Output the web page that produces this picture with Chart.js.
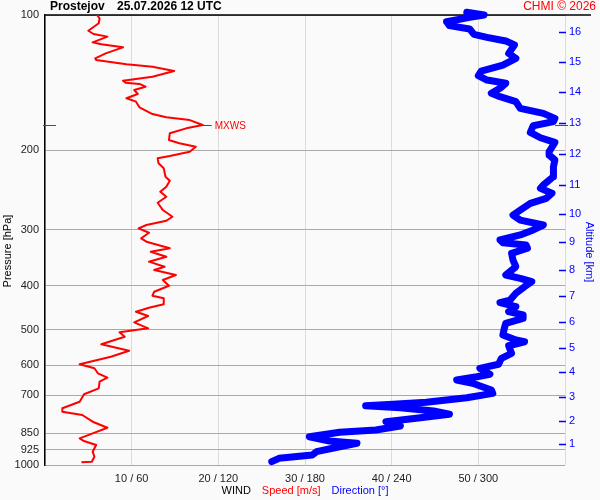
<!DOCTYPE html>
<html>
<head>
<meta charset="utf-8">
<script src="https://cdn.jsdelivr.net/npm/chart.js@4.4.1/dist/chart.umd.min.js"></script>
<style>
    html, body { margin: 0; padding: 0; background: #fafafa; }
    #wrap { width: 600px; height: 500px; }
</style>
</head>
<body>
<div id="wrap"><canvas id="windChart"></canvas></div>
<script>
// Rychlost větru [m/s] podle tlakové hladiny [hPa]
const speedLevels = [100, 101.7, 104.3, 108.4, 110.2, 111.7, 115.0, 116.2, 118.0, 121.7, 124.8, 125.9, 128.7, 130.3, 133.2,
    137.1, 140.0, 141.4, 142.3, 144.3, 146.8, 149.8, 153.1, 155.8, 160.4, 166.0, 168.8, 171.2, 175.6, 178.6, 183.2,
    189.6, 192.8, 196.2, 201.3, 205.8, 208.2, 213.6, 219.1, 228.7, 233.4, 240.7, 247.0, 253.4, 261.3, 271.3, 280.8,
    286.6, 292.9, 297.9, 304.7, 313.5, 319.0, 329.9, 335.7, 344.4, 353.3, 362.5, 368.7, 378.2, 388.1, 399.6, 412.0,
    420.6, 426.2, 439.5, 447.2, 456.4, 466.6, 481.9, 496.9, 507.2, 518.7, 539.3, 557.2, 574.5, 597.3, 609.7, 625.5,
    639.7, 653.0, 675.4, 696.4, 723.3, 748.2, 761.4, 774.3, 801.3, 826.3, 850.5, 872.5, 884.6, 902.9, 934.1, 958.5,
    983.3, 986.3];
const speedValues = [6.0, 6.3, 6.2, 5.0, 5.6, 7.2, 5.5, 6.5, 9.0, 7.0, 5.8, 5.9, 9.4, 12.4, 14.9,
    12.4, 9.0, 9.3, 10.9, 11.6, 10.3, 10.7, 9.4, 10.5, 10.9, 12.4, 14.0, 16.7, 18.2, 16.3, 14.4,
    14.3, 15.5, 17.4, 16.7, 14.4, 13.0, 13.1, 13.7, 13.9, 14.4, 14.0, 13.3, 14.0, 13.0, 13.6, 14.7,
    14.0, 11.7, 10.8, 12.0, 11.1, 11.7, 14.4, 12.2, 14.0, 12.0, 13.8, 12.6, 15.1, 13.6, 14.3, 12.6,
    12.4, 13.7, 13.7, 12.0, 10.5, 11.9, 10.3, 11.9, 8.6, 9.2, 6.5, 9.7, 7.6, 4.0, 5.7, 6.1,
    7.2, 6.3, 6.2, 4.5, 4.0, 2.0, 2.0, 4.3, 5.5, 7.2, 5.5, 4.0, 4.5, 5.9, 5.5, 5.7,
    5.4, 4.2];

// Směr větru [°] podle tlakové hladiny [hPa]
const dirLevels = [98.6, 100, 101.2, 103.5, 105.6, 107.4, 110.4, 112.1, 114.2, 116.6, 121.7, 124.8, 129.2, 133.2,
    136.4, 139.5, 141.8, 145.5, 149.3, 151.9, 155.8, 161.2, 165.4, 169.7, 172.6, 176.2, 182.3, 187.4, 191.9,
    201.3, 204.7, 210.0, 217.3, 228.7, 238.7, 242.8, 248.9, 255.5, 262.1, 271.3, 278.3, 285.6, 292.9, 300.4,
    308.2, 316.2, 320.6, 324.4, 329.9, 338.5, 350.4, 362.5, 378.2, 384.7, 391.5, 401.6, 415.4, 429.9, 435.9,
    444.9, 456.4, 464.2, 472.1, 484.3, 496.9, 514.2, 527.6, 532.2, 543.2, 564.7, 579.3, 597.3, 609.7, 628.7,
    636.6, 647.4, 658.3, 681.3, 693.1, 708.8, 725.6, 733.0, 738.3, 745.9, 758.6, 771.5, 787.5, 801.3, 819.1,
    836.1, 846.0, 865.3, 884.6, 895.0, 910.6, 934.1, 950.1, 966.3, 983.3];
const dirValues = [292, 304, 294, 278, 280, 294, 297, 306, 319, 325, 321, 326, 317, 302,
    300, 306, 319, 315, 309, 315, 326, 329, 345, 353, 352, 338, 336, 343, 353,
    349, 349, 353, 352, 352, 345, 343, 351, 347, 336, 329, 324, 329, 345, 338,
    329, 315, 317, 333, 334, 323, 324, 326, 319, 329, 337, 332, 326, 322, 315,
    326, 321, 331, 331, 319, 318, 317, 326, 332, 321, 323, 316, 314, 301, 308,
    299, 285, 296, 309, 310, 292, 264, 241, 222, 246, 269, 280, 257, 236, 246,
    229, 204, 183, 197, 216, 204, 188, 185, 162, 157];

// Osy
const pressureTicks = [100, 200, 300, 400, 500, 600, 700, 850, 925, 1000];
const speedTicks = [10, 20, 30, 40, 50];
const directionTicks = [60, 120, 180, 240, 300];
const altitudeKm = [1, 2, 3, 4, 5, 6, 7, 8, 9, 10, 11, 12, 13, 14, 15, 16];
const altitudeLevels = [898, 798, 706, 622, 550, 480, 421, 369, 320, 277, 239, 204, 174, 148.5, 127.4, 109.3];

const RED = '#ff0000';
const BLUE = '#0000ff';
const FONT = 'Arial, "Liberation Sans", sans-serif';

const toPoints = (levels, values) => levels.map((p, i) => ({ x: values[i], y: p }));

// Rámeček, popisky a značka MXWS
const extras = {
    id: 'extras',
    beforeDatasetsDraw(chart) {
        const { ctx, chartArea: a, scales } = chart;
        const topY = scales.y.getPixelForValue(pressureTicks[0]);
        ctx.save();
        ctx.strokeStyle = '#000';
        ctx.lineWidth = 1.5;
        ctx.beginPath();
        ctx.moveTo(a.left, topY);
        ctx.lineTo(a.right + 26, topY);
        ctx.stroke();
        ctx.restore();
    },
    afterDraw(chart) {
        const { ctx, chartArea: a, scales } = chart;
        ctx.save();

        // značky výšky
        ctx.strokeStyle = BLUE;
        ctx.lineWidth = 1.5;
        altitudeLevels.forEach(p => {
            const py = Math.round(scales.yk.getPixelForValue(p)) + 0.5;
            ctx.beginPath();
            ctx.moveTo(a.right - 6, py);
            ctx.lineTo(a.right + 1, py);
            ctx.stroke();
        });

        // maximum rychlosti
        const iMax = speedValues.indexOf(Math.max(...speedValues));
        const mx = scales.x.getPixelForValue(speedValues[iMax]);
        const my = Math.round(scales.y.getPixelForValue(speedLevels[iMax])) + 0.5;
        ctx.strokeStyle = RED;
        ctx.lineWidth = 1;
        ctx.beginPath();
        ctx.moveTo(a.left - 2, my); ctx.lineTo(a.left + 11, my);
        ctx.moveTo(a.right - 10, my); ctx.lineTo(a.right + 3, my);
        ctx.moveTo(mx, my); ctx.lineTo(mx + 9, my);
        ctx.stroke();
        ctx.fillStyle = RED;
        ctx.font = '10px ' + FONT;
        ctx.textAlign = 'left';
        ctx.textBaseline = 'middle';
        ctx.fillText('MXWS', mx + 12, my + 1);

        // nadpis
        ctx.fillStyle = '#000';
        ctx.font = 'bold 12px ' + FONT;
        ctx.fillText('Prostejov', 50, 7);
        ctx.fillText('25.07.2026 12 UTC', 117, 7);
        ctx.fillStyle = RED;
        ctx.font = '12px ' + FONT;
        ctx.textAlign = 'right';
        ctx.fillText('CHMI \u00a9 2026', 596, 7);

        // popis osy x
        ctx.font = '11px ' + FONT;
        ctx.textAlign = 'left';
        const parts = [['WIND', '#000'], ['Speed [m/s]', RED], ['Direction [\u00b0]', BLUE]];
        const gap = 11;
        const total = parts.reduce((s, p) => s + ctx.measureText(p[0]).width, 0) + gap * (parts.length - 1);
        let tx = (a.left + a.right) / 2 - total / 2;
        parts.forEach(([txt, col]) => {
            ctx.fillStyle = col;
            ctx.fillText(txt, tx, 491);
            tx += ctx.measureText(txt).width + gap;
        });

        // popisy svislých os
        ctx.textAlign = 'center';
        ctx.fillStyle = '#000';
        ctx.save();
        ctx.translate(8, 251);
        ctx.rotate(-Math.PI / 2);
        ctx.fillText('Pressure [hPa]', 0, 0);
        ctx.restore();
        ctx.fillStyle = BLUE;
        ctx.save();
        ctx.translate(589, 252);
        ctx.rotate(Math.PI / 2);
        ctx.fillText('Altitude [km]', 0, 0);
        ctx.restore();

        ctx.restore();
    }
};

document.addEventListener('DOMContentLoaded', () => {
    Chart.defaults.font.family = FONT;
    Chart.defaults.font.size = 11;
    Chart.defaults.color = '#222';

    new Chart(document.getElementById('windChart').getContext('2d'), {
        type: 'scatter',
        data: {
            datasets: [
                {
                    label: 'Speed',
                    data: toPoints(speedLevels, speedValues),
                    xAxisID: 'x', yAxisID: 'y',
                    showLine: true, borderColor: RED, borderWidth: 2,
                    pointRadius: 0, tension: 0, borderJoinStyle: 'round'
                },
                {
                    label: 'Direction',
                    data: toPoints(dirLevels, dirValues),
                    xAxisID: 'xd', yAxisID: 'y',
                    showLine: true, borderColor: BLUE, borderWidth: 7,
                    pointRadius: 0, tension: 0, borderJoinStyle: 'round', borderCapStyle: 'round',
                    clip: false
                }
            ]
        },
        options: {
            responsive: true,
            maintainAspectRatio: false,
            animation: false,
            layout: { padding: { top: 15, left: 0, right: 0, bottom: 0 } },
            plugins: { legend: { display: false }, tooltip: { enabled: false } },
            scales: {
                x: {
                    type: 'linear', position: 'bottom', min: 0, max: 60,
                    afterBuildTicks: s => { s.ticks = [0, ...speedTicks, 60].map(v => ({ value: v })); },
                    afterFit: s => { s.height = 35; },
                    ticks: {
                        padding: 7,
                        callback: v => {
                            const i = speedTicks.indexOf(v);
                            return i < 0 ? '' : speedTicks[i] + ' / ' + directionTicks[i];
                        }
                    },
                    grid: { color: '#dcdcdc', drawTicks: false },
                    border: { display: false }
                },
                xd: { type: 'linear', display: false, min: 0, max: 360 },
                y: {
                    type: 'logarithmic', position: 'left', reverse: true, min: 100, max: 1000,
                    afterBuildTicks: s => { s.ticks = pressureTicks.map(v => ({ value: v })); },
                    afterFit: s => { s.width = 45; },
                    ticks: { autoSkip: false, padding: 6, callback: v => String(v) },
                    grid: { color: '#a9a9a9', drawTicks: false },
                    border: { display: true, color: '#000', width: 1.5 }
                },
                yk: {
                    type: 'logarithmic', position: 'right', reverse: true, min: 100, max: 1000,
                    afterBuildTicks: s => { s.ticks = altitudeLevels.map(v => ({ value: v })); },
                    afterFit: s => { s.width = 35; },
                    ticks: {
                        autoSkip: false, padding: 4, color: BLUE,
                        callback: v => {
                            const i = altitudeLevels.indexOf(v);
                            return i < 0 ? '' : String(altitudeKm[i]);
                        }
                    },
                    grid: { display: false, drawTicks: false },
                    border: { display: false }
                }
            }
        },
        plugins: [extras]
    });
});
</script>
</body>
</html>
